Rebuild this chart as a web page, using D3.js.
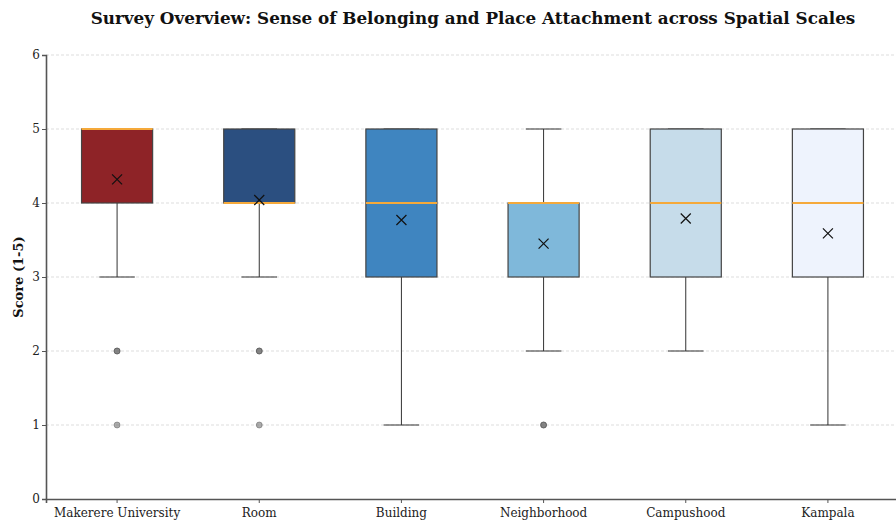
<!DOCTYPE html>
<html>
<head>
<meta charset="utf-8">
<script src="https://cdn.jsdelivr.net/npm/d3@7"></script>
<style>
  html, body { margin: 0; padding: 0; background: #fff; overflow: hidden; }
  svg { display: block; font-family: "DejaVu Serif", serif; }
</style>
</head>
<body>
<svg id="chart" width="896" height="521"></svg>
<script>
// Scales surveyed and their five-number summaries (Likert 1-5)
const categories = ["Makerere University", "Room", "Building", "Neighborhood", "Campushood", "Kampala"];
const whiskerLow  = [3, 3, 1, 2, 2, 1];
const q1          = [4, 4, 3, 3, 3, 3];
const medians     = [5, 4, 4, 4, 4, 4];
const q3          = [5, 5, 5, 4, 5, 5];
const whiskerHigh = [5, 5, 5, 5, 5, 5];
const means       = [4.32, 4.04, 3.77, 3.45, 3.79, 3.59];
// Outlying responses per scale (repeats stack and read darker)
const outliers    = [[2, 2, 1], [2, 2, 1], [], [1, 1], [], []];
const boxColors   = ["#8e2327", "#2b4f80", "#3f85c0", "#7fb8da", "#c6dcea", "#eef3fd"];
const yTicks      = [0, 1, 2, 3, 4, 5, 6];

const svg = d3.select("#chart");
const W = 896, H = 521;
const margin = { top: 55, right: -3, bottom: 22, left: 46 };
const innerW = W - margin.left - margin.right;
const innerH = H - margin.top - margin.bottom;

const g = svg.append("g").attr("transform", `translate(${margin.left},${margin.top})`);

const x = d3.scaleBand().domain(categories).range([0, innerW]).paddingInner(0).paddingOuter(0);
const y = d3.scaleLinear().domain([0, 6]).range([innerH, 0]);

const step = x.step();
const boxW = step * 0.5;
const capW = step * 0.25;
const cx = c => x(c) + x.bandwidth() / 2;

// Horizontal dashed grid
g.append("g").selectAll("line").data(yTicks.filter(t => t > 0)).join("line")
  .attr("x1", 0).attr("x2", innerW)
  .attr("y1", d => y(d)).attr("y2", d => y(d))
  .attr("stroke", "#d4d4d4").attr("stroke-width", 0.8)
  .attr("stroke-dasharray", "3,2");

const data = categories.map((c, i) => ({
  c, lo: whiskerLow[i], q1: q1[i], med: medians[i], q3: q3[i], hi: whiskerHigh[i],
  mean: means[i], out: outliers[i], color: boxColors[i]
}));

const boxes = g.append("g").selectAll("g").data(data).join("g");

// Whiskers
boxes.append("line")
  .attr("x1", d => cx(d.c)).attr("x2", d => cx(d.c))
  .attr("y1", d => y(d.q1)).attr("y2", d => y(d.lo))
  .attr("stroke", "#333").attr("stroke-width", 1);
boxes.append("line")
  .attr("x1", d => cx(d.c)).attr("x2", d => cx(d.c))
  .attr("y1", d => y(d.q3)).attr("y2", d => y(d.hi))
  .attr("stroke", "#333").attr("stroke-width", 1);
// Caps
boxes.append("line")
  .attr("x1", d => cx(d.c) - capW / 2).attr("x2", d => cx(d.c) + capW / 2)
  .attr("y1", d => y(d.lo)).attr("y2", d => y(d.lo))
  .attr("stroke", "#333").attr("stroke-width", 1);
boxes.append("line")
  .attr("x1", d => cx(d.c) - capW / 2).attr("x2", d => cx(d.c) + capW / 2)
  .attr("y1", d => y(d.hi)).attr("y2", d => y(d.hi))
  .attr("stroke", "#333").attr("stroke-width", 1);

// Boxes
boxes.append("rect")
  .attr("x", d => cx(d.c) - boxW / 2).attr("width", boxW)
  .attr("y", d => y(d.q3)).attr("height", d => y(d.q1) - y(d.q3))
  .attr("fill", d => d.color)
  .attr("stroke", "#444").attr("stroke-width", 1.2);

// Medians
boxes.append("line")
  .attr("x1", d => cx(d.c) - boxW / 2).attr("x2", d => cx(d.c) + boxW / 2)
  .attr("y1", d => y(d.med)).attr("y2", d => y(d.med))
  .attr("stroke", "#f5a93a").attr("stroke-width", 2);

// Outliers
boxes.selectAll("circle").data(d => d.out.map(v => ({ c: d.c, v }))).join("circle")
  .attr("cx", d => cx(d.c)).attr("cy", d => y(d.v)).attr("r", 3)
  .attr("fill", "#666").attr("fill-opacity", 0.55)
  .attr("stroke", "#444").attr("stroke-opacity", 0.5).attr("stroke-width", 0.8);

// Mean markers (x)
const mk = 5;
boxes.append("path")
  .attr("d", d => {
    const px = cx(d.c), py = y(d.mean);
    return `M${px - mk},${py - mk}L${px + mk},${py + mk}M${px - mk},${py + mk}L${px + mk},${py - mk}`;
  })
  .attr("stroke", "#111").attr("stroke-width", 1.2).attr("fill", "none");

// Axes
const yAxis = g.append("g").call(d3.axisLeft(y).tickValues(yTicks).tickFormat(d3.format("d")).tickSizeOuter(0).tickSize(4));
const xAxis = g.append("g").attr("transform", `translate(0,${innerH})`)
  .call(d3.axisBottom(x).tickSizeOuter(0).tickSize(4));

[yAxis, xAxis].forEach(a => {
  a.select(".domain").attr("stroke", "#555").attr("stroke-width", 1.6);
  a.selectAll(".tick line").attr("stroke", "#555");
  a.selectAll(".tick text").attr("fill", "#222")
    .style("font-family", "'DejaVu Serif', serif").style("font-size", "12px");
});
yAxis.selectAll(".tick text").attr("x", -6);
xAxis.selectAll(".tick text").attr("y", 9);

// Y axis title
svg.append("text")
  .attr("transform", `translate(23,${margin.top + y(3)}) rotate(-90)`)
  .attr("text-anchor", "middle")
  .style("font-size", "13px").style("font-weight", "bold").attr("fill", "#111")
  .text("Score (1-5)");

// Title
svg.append("text")
  .attr("x", 473).attr("y", 24)
  .attr("text-anchor", "middle")
  .style("font-size", "16.8px").style("font-weight", "bold").attr("fill", "#111")
  .text("Survey Overview: Sense of Belonging and Place Attachment across Spatial Scales");
</script>
</body>
</html>
